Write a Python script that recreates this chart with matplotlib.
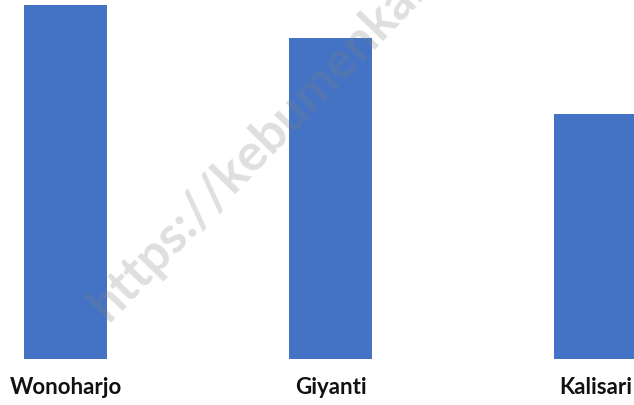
import matplotlib.pyplot as plt
import numpy as np

# data
desa = ["Wonoharjo", "Giyanti", "Kalisari"]
nilai = [354, 321, 245]

fig = plt.figure(figsize=(6.34, 4.06), dpi=100)
ax = fig.add_axes([0, 46 / 406, 1, 360 / 406])

x = np.arange(len(desa))
ax.bar(x, nilai, width=0.313, color="#4472C4")
ax.set_xlim(-65.5 / 265, (634 - 65.5) / 265)
ax.set_ylim(0, 360)
ax.axis("off")

# category labels under the bars
for xi, nama in zip(x, desa):
    ax.annotate(nama, (xi, 0), xytext=(0, -19.5), textcoords="offset points",
                ha="center", va="center", fontsize=16, fontweight="bold",
                color="#111111", family=["Lato", "DejaVu Sans"],
                annotation_clip=False)

# watermark
fig.text(108 / 634, 1 - 322 / 406, "https://kebumenkab.go.id", rotation=46,
         rotation_mode="anchor", ha="left", va="baseline", fontsize=37,
         fontweight="bold", color="gray", alpha=0.25,
         family=["Lato", "DejaVu Sans"])

fig.savefig("out.png", dpi=100)
